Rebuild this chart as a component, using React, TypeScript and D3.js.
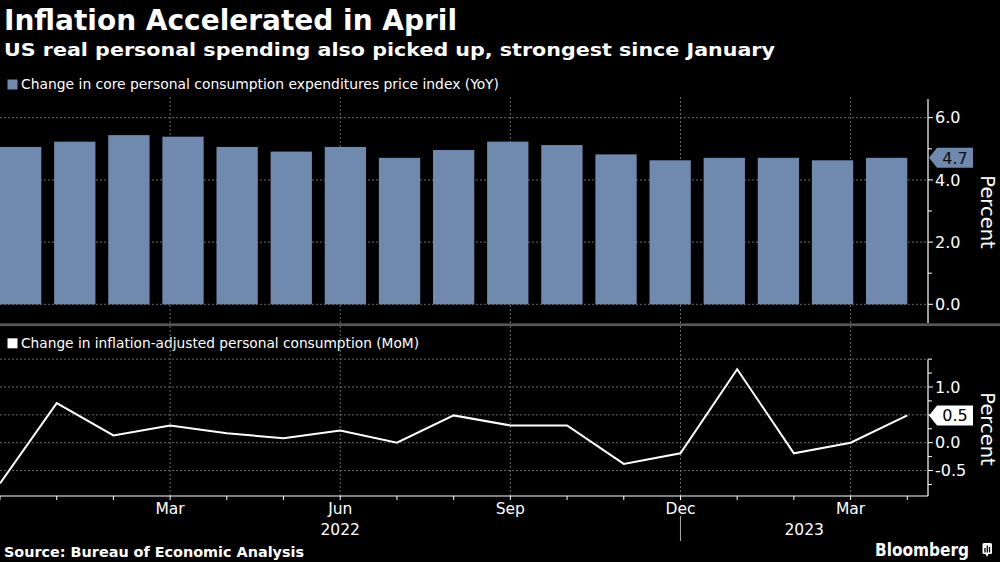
import React from "react";
import * as d3 from "d3";

const months = [
  "Dec 2021", "Jan 2022", "Feb 2022", "Mar 2022", "Apr 2022", "May 2022", "Jun 2022",
  "Jul 2022", "Aug 2022", "Sep 2022", "Oct 2022", "Nov 2022", "Dec 2022",
  "Jan 2023", "Feb 2023", "Mar 2023", "Apr 2023",
];
const corePce = [5.06, 5.23, 5.44, 5.39, 5.06, 4.91, 5.06, 4.71, 4.96, 5.23, 5.12, 4.82, 4.63, 4.71, 4.71, 4.63, 4.71];
const realSpending = [-0.73, 0.71, 0.13, 0.31, 0.17, 0.08, 0.22, 0.0, 0.49, 0.31, 0.31, -0.38, -0.19, 1.32, -0.19, 0.0, 0.49];

const quarterMonths = ["Mar 2022", "Jun 2022", "Sep 2022", "Dec 2022", "Mar 2023"];
const quarterLabels = ["Mar", "Jun", "Sep", "Dec", "Mar"];
const yearLabels = ["2022", "2023"];
const topTicks = [0, 2, 4, 6];
const topMinor = [1, 3, 5];
const botTicks = [-0.5, 0, 0.5, 1.0];
const botLabelled = [-0.5, 0, 1.0];
const botMinor = [-0.75, -0.25, 0.25, 0.75, 1.25, 1.5];

const title = "Inflation Accelerated in April";
const subtitle = "US real personal spending also picked up, strongest since January";
const legendTop = "Change in core personal consumption expenditures price index (YoY)";
const legendBottom = "Change in inflation-adjusted personal consumption (MoM)";
const source = "Source: Bureau of Economic Analysis";

const BAR = "#7089ae";
const GRID = "#6a6a6a";
const AX = 928;

const fmt = (v: number) => d3.format(".1f")(v).replace("\u2212", "-");

export default function App() {
  const xBand = d3.scaleBand<string>().domain(months).range([0, 907.3]).paddingInner(0.237).paddingOuter(0);
  const xPt = d3.scalePoint<string>().domain(months).range([0, 907.3]);
  const yTop = d3.scaleLinear().domain([0, 6]).range([304.3, 117.7]);
  const yBot = d3.scaleLinear().domain([0, 1]).range([442.7, 387]);

  const line = d3
    .line<number>()
    .x((_, i) => xPt(months[i]) as number)
    .y((d) => yBot(d));

  const lastTop = corePce[corePce.length - 1];
  const lastBot = realSpending[realSpending.length - 1];
  const tagPath = (cy: number) =>
    `M${AX + 1},${cy} L${AX + 9},${cy - 10} L${AX + 45},${cy - 10} L${AX + 45},${cy + 10} L${AX + 9},${cy + 10} Z`;

  const font = "'DejaVu Sans', Verdana, sans-serif";
  const cond = "'DejaVu Sans Condensed', 'DejaVu Sans', sans-serif";
  const decX = xPt("Dec 2022") as number;

  return (
    <svg
      width={1000}
      height={562}
      style={{ position: "absolute", left: 0, top: 0, background: "#000" }}
      fontFamily={font}
    >
      <rect x={0} y={0} width={1000} height={562} fill="#000" />
      {/* Titles */}
      <text x={4} y={30} fill="#fff" fontSize={28} fontWeight="bold" textLength={453} lengthAdjust="spacingAndGlyphs">
        {title}
      </text>
      <text x={4} y={56} fill="#fff" fontSize={18} fontWeight="bold" textLength={771} lengthAdjust="spacingAndGlyphs">
        {subtitle}
      </text>

      {/* Legend top */}
      <rect x={7.5} y={79.5} width={10} height={10} fill={BAR} />
      <text x={21} y={89.3} fill="#fff" fontSize={14.5} fontFamily={cond} textLength={478} lengthAdjust="spacingAndGlyphs">
        {legendTop}
      </text>

      {/* Top panel grid */}
      {topTicks.map((t) => (
        <line key={"hg" + t} x1={0} x2={AX} y1={yTop(t)} y2={yTop(t)} stroke={GRID} strokeDasharray="2,2" />
      ))}
      {quarterMonths.map((m) => (
        <line key={"vgt" + m} x1={xPt(m)} x2={xPt(m)} y1={97} y2={323} stroke={GRID} strokeDasharray="2,2" />
      ))}
      {/* Bars */}
      {corePce.map((v, i) => (
        <rect
          key={"b" + i}
          x={xBand(months[i])}
          y={yTop(v)}
          width={xBand.bandwidth()}
          height={yTop(0) - yTop(v)}
          fill={BAR}
        />
      ))}
      {/* Top axis */}
      <line x1={AX} x2={AX} y1={99} y2={323} stroke="#fff" strokeWidth={1.2} />
      {topTicks.map((t) => (
        <g key={"tt" + t}>
          <line x1={AX} x2={AX + 5} y1={yTop(t)} y2={yTop(t)} stroke="#fff" />
          <text x={935} y={yTop(t)} dy="0.36em" fill="#fff" fontSize={16}>
            {fmt(t)}
          </text>
        </g>
      ))}
      {topMinor.map((t) => (
        <line key={"tm" + t} x1={AX} x2={AX + 4} y1={yTop(t)} y2={yTop(t)} stroke="#fff" />
      ))}
      <path d={tagPath(yTop(lastTop))} fill={BAR} />
      <text x={955} y={yTop(lastTop)} dy="0.36em" fill="#0a0f1a" fontSize={16} textAnchor="middle">
        {fmt(lastTop)}
      </text>
      <text transform={`translate(981,212) rotate(90)`} fill="#fff" fontSize={19.5} textAnchor="middle">
        Percent
      </text>

      {/* Separator */}
      <rect x={0} y={323.3} width={1000} height={2.8} fill="#555" />

      {/* Legend bottom */}
      <rect x={7.5} y={338.3} width={10} height={10} fill="#fff" />
      <text x={21} y={348} fill="#fff" fontSize={14.5} fontFamily={cond} textLength={398} lengthAdjust="spacingAndGlyphs">
        {legendBottom}
      </text>

      {/* Bottom grid */}
      {[...botTicks, 1.5].map((t) => (
        <line key={"bg" + t} x1={0} x2={AX} y1={yBot(t)} y2={yBot(t)} stroke={GRID} strokeDasharray="2,2" />
      ))}
      {quarterMonths.map((m) => (
        <line key={"vgb" + m} x1={xPt(m)} x2={xPt(m)} y1={326} y2={496} stroke={GRID} strokeDasharray="2,2" />
      ))}

      {/* Line */}
      <path d={line(realSpending) as string} fill="none" stroke="#fff" strokeWidth={2} strokeLinejoin="miter" />

      {/* Bottom y axis */}
      <line x1={AX} x2={AX} y1={yBot(1.5)} y2={496} stroke="#fff" strokeWidth={1.2} />
      {botTicks.map((t) => (
        <line key={"btl" + t} x1={AX} x2={AX + 5} y1={yBot(t)} y2={yBot(t)} stroke="#fff" />
      ))}
      {botLabelled.map((t) => (
        <text key={"bt" + t} x={935} y={yBot(t)} dy="0.36em" fill="#fff" fontSize={16}>
          {fmt(t)}
        </text>
      ))}
      {botMinor.map((t) => (
        <line key={"bm" + t} x1={AX} x2={AX + 4} y1={yBot(t)} y2={yBot(t)} stroke="#fff" />
      ))}
      <path d={tagPath(yBot(lastBot))} fill="#fff" />
      <text x={955} y={yBot(lastBot)} dy="0.36em" fill="#000" fontSize={16} textAnchor="middle">
        {fmt(lastBot)}
      </text>
      <text transform={`translate(981,429) rotate(90)`} fill="#fff" fontSize={19.5} textAnchor="middle">
        Percent
      </text>

      {/* Bottom x axis */}
      <line x1={0} x2={AX} y1={496} y2={496} stroke="#fff" strokeWidth={1.2} />
      {months.map((m) => (
        <line key={"xt" + m} x1={xPt(m)} x2={xPt(m)} y1={496} y2={500} stroke="#fff" />
      ))}
      {quarterMonths.map((m, i) => (
        <text key={"ql" + i} x={xPt(m)} y={514} fill="#fff" fontSize={15.5} textAnchor="middle">
          {quarterLabels[i]}
        </text>
      ))}
      <line x1={decX} x2={decX} y1={516} y2={541} stroke="#aaa" />
      <text x={decX / 2} y={535} fill="#fff" fontSize={15.5} textAnchor="middle">
        {yearLabels[0]}
      </text>
      <text x={(decX + AX) / 2} y={535} fill="#fff" fontSize={15.5} textAnchor="middle">
        {yearLabels[1]}
      </text>

      {/* Footer */}
      <text x={4} y={557} fill="#fff" fontSize={14.5} fontWeight="bold" fontFamily={cond} textLength={300} lengthAdjust="spacingAndGlyphs">
        {source}
      </text>
      <text x={875} y={556} fill="#fff" fontSize={17} fontWeight="bold" fontFamily={cond} textLength={94} lengthAdjust="spacingAndGlyphs">
        Bloomberg
      </text>
      <g>
        <rect x={982.5} y={543} width={9.5} height={11} rx={1.5} fill="#fff" />
        <path d="M985.5,554 L987,557 L988.5,554 Z" fill="#fff" />
        <rect x={984.3} y={548} width={1.3} height={4.5} fill="#000" />
        <rect x={986.6} y={545.5} width={1.3} height={7} fill="#000" />
        <rect x={988.9} y={547} width={1.3} height={5.5} fill="#000" />
      </g>
    </svg>
  );
}
